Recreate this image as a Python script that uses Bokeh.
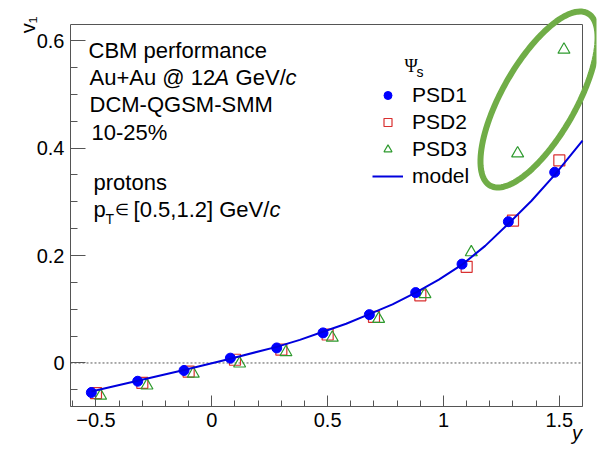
import numpy as np
from bokeh.plotting import figure
from bokeh.models import (Range1d, FixedTicker, Label, Legend, LegendItem,
                          PolyAnnotation, BoxAnnotation)
from bokeh.embed import file_html
from bokeh.resources import INLINE

# ---------------- data ----------------
y_psd1 = [-0.52, -0.32, -0.12, 0.08, 0.28, 0.48, 0.68, 0.88, 1.08, 1.28, 1.48]
v1_psd1 = [-0.055, -0.034, -0.014, 0.009, 0.028, 0.056, 0.090, 0.131, 0.184, 0.263, 0.355]

y_psd2 = [-0.50, -0.30, -0.10, 0.10, 0.30, 0.50, 0.70, 0.90, 1.10, 1.30, 1.50]
v1_psd2 = [-0.056, -0.037, -0.016, 0.006, 0.025, 0.053, 0.086, 0.126, 0.179, 0.265, 0.377]

y_psd3 = [-0.48, -0.28, -0.08, 0.12, 0.32, 0.52, 0.72, 0.92, 1.12, 1.32, 1.52]
v1_psd3 = [-0.061, -0.042, -0.020, -0.001, 0.020, 0.047, 0.082, 0.128, 0.206, 0.390, 0.583]

y_model = [-0.52, -0.32, -0.12, 0.08, 0.28, 0.38, 0.48, 0.58, 0.68, 0.78, 0.88,
           0.98, 1.08, 1.18, 1.28, 1.38, 1.48, 1.60]
v1_model = [-0.053, -0.033, -0.013, 0.008, 0.030, 0.043, 0.058, 0.073, 0.091, 0.109,
            0.131, 0.155, 0.183, 0.218, 0.259, 0.302, 0.350, 0.414]

x_ticks = [-0.5, 0, 0.5, 1, 1.5]
x_tick_labels = ["\u22120.5", "0", "0.5", "1", "1.5"]
y_ticks = [0, 0.2, 0.4, 0.6]
y_tick_labels = ["0", "0.2", "0.4", "0.6"]

# ---------------- layout ----------------
W, H = 601, 449
FL, FR, FT, FB = 70, 582, 24, 406   # visible frame edges in canvas px
X0, X1 = -0.61, 1.6                 # visible axis ranges
Y0, Y1 = -0.081, 0.63
EDGE = 5                            # drawing frame reaches to 5 px from canvas edge

# the drawing frame is extended towards the top and right canvas edges so that
# the highlight ellipse can reach beyond the visible box
x_end = X1 + (W - EDGE - FR) * (X1 - X0) / (FR - FL)
y_end = Y1 + (FT - EDGE) * (Y1 - Y0) / (FB - FT)

FONT = "Liberation Sans"
TXT = "22px"
NB = "\u00a0"
BLUE = "#0000ff"
RED = "#d93030"
GREEN = "#2e9a2e"
FRAME = "#555555"

p = figure(width=W, height=H, output_backend="svg", toolbar_location=None,
           x_range=Range1d(X0, x_end), y_range=Range1d(Y0, y_end),
           min_border_left=FL, min_border_right=EDGE,
           min_border_top=EDGE, min_border_bottom=H - FB)
p.background_fill_color = "white"
p.border_fill_color = "white"
p.outline_line_color = None
p.grid.visible = False

# visible frame box
p.add_layout(BoxAnnotation(left=X0, right=X1, bottom=Y0, top=Y1,
                           fill_alpha=0, line_color=FRAME, line_alpha=1,
                           line_width=1, level="underlay"))

xa = p.xaxis[0]
xa.bounds = (X0, X1)
xa.ticker = FixedTicker(ticks=x_ticks,
                        minor_ticks=[round(v, 2) for v in np.arange(-0.6, 1.61, 0.1)])
xa.major_label_overrides = {t: l for t, l in zip(x_ticks, x_tick_labels)}
xa.major_tick_in = 11
xa.major_tick_out = 0
xa.minor_tick_in = 6
xa.minor_tick_out = 0
xa.major_label_standoff = 6
xa.axis_label = "y" + NB * 7
xa.axis_label_text_font_style = "italic"
xa.axis_label_align = "end"
xa.axis_label_standoff = -8

ya = p.yaxis[0]
ya.bounds = (Y0, Y1)
ya.ticker = FixedTicker(ticks=y_ticks,
                        minor_ticks=[round(v, 2) for v in np.arange(-0.05, 0.61, 0.05)])
ya.major_label_overrides = {t: l for t, l in zip(y_ticks, y_tick_labels)}
ya.major_tick_in = 15
ya.major_tick_out = 0
ya.minor_tick_in = 7
ya.minor_tick_out = 0
ya.major_label_standoff = 6
ya.major_label_orientation = "horizontal"
ya.axis_label = "v\u2081" + NB * 2
ya.axis_label_text_font_style = "normal"
ya.axis_label_orientation = np.pi / 2
ya.axis_label_align = "end"
ya.axis_label_standoff = 6

for ax in (xa, ya):
    ax.axis_line_color = FRAME
    ax.major_tick_line_color = FRAME
    ax.minor_tick_line_color = FRAME
    ax.major_label_text_font = FONT
    ax.major_label_text_font_size = "20px"
    ax.major_label_text_color = "black"
    ax.axis_label_text_font = FONT
    ax.axis_label_text_font_size = "20px"
    ax.axis_label_text_color = "black"

# dotted zero line across the visible frame
p.line([X0, X1], [0, 0], line_color=FRAME, line_width=1, line_dash="2 2")

r2 = p.scatter(y_psd2, v1_psd2, marker="square", size=11, fill_color=None,
               line_color=RED, line_width=1.2)
r3 = p.scatter(y_psd3, v1_psd3, marker="triangle", size=12, fill_color=None,
               line_color=GREEN, line_width=1.2)
r1 = p.scatter(y_psd1, v1_psd1, marker="circle", size=10, fill_color=BLUE,
               line_color=BLUE)
rm = p.line(y_model, v1_model, line_color="#0000dd", line_width=2)

legend = Legend(items=[LegendItem(label="PSD1", renderers=[r1]),
                       LegendItem(label="PSD2", renderers=[r2]),
                       LegendItem(label="PSD3", renderers=[r3]),
                       LegendItem(label="model", renderers=[rm])],
                location=(372 - FL, FB - 188), orientation="vertical",
                glyph_width=31, glyph_height=20, label_height=20,
                label_standoff=9, spacing=3, padding=0, margin=0,
                border_line_color=None, background_fill_alpha=0,
                label_text_font=FONT, label_text_font_size="21px",
                label_text_color="black")
p.add_layout(legend)

DY = 7  # label baseline correction


def lab(text, x, y, size=TXT, font=FONT, style="normal"):
    p.add_layout(Label(x=x - FL, y=FB - (y - DY), x_units="screen", y_units="screen",
                       text=text, text_font=font, text_font_size=size,
                       text_font_style=style, text_baseline="alphabetic",
                       text_align="left", text_color="black"))


# text block
lab("CBM performance", 88, 57)
lab("Au+Au @ 12", 89, 84)
lab("A", 214, 84, style="italic")
lab(NB + "GeV/", 229, 84)
lab("c", 285, 84, style="italic")
lab("DCM-QGSM-SMM", 89, 111)
lab("10-25%", 91, 139)
lab("protons", 93, 189)
lab("p", 93, 216)
lab("T", 105, 225, size="14px")
lab("\u2208", 114, 216, size="16px")
lab(NB + "[0.5,1.2] GeV/", 127, 216)
lab("c", 269, 216, style="italic")

# legend header
lab("\u03a8", 404, 72, size="18px", font="Liberation Serif")
lab("s", 416, 78, size="14px")

# highlight ellipse (green hand-drawn style mark)
cx, cy, a, b, th = 538.5 - FL, FB - 99, 99.0, 37.0, np.radians(60.4)
t = np.linspace(0, 2 * np.pi, 120)
ex = cx + a * np.cos(t) * np.cos(th) - b * np.sin(t) * np.sin(th)
ey = cy + a * np.cos(t) * np.sin(th) + b * np.sin(t) * np.cos(th)
p.add_layout(PolyAnnotation(xs=list(ex), ys=list(ey), xs_units="screen",
                            ys_units="screen", fill_alpha=0, line_alpha=1,
                            line_color="#70ad47", line_width=6, level="overlay"))

open("out.html", "w").write(file_html(p, INLINE))
